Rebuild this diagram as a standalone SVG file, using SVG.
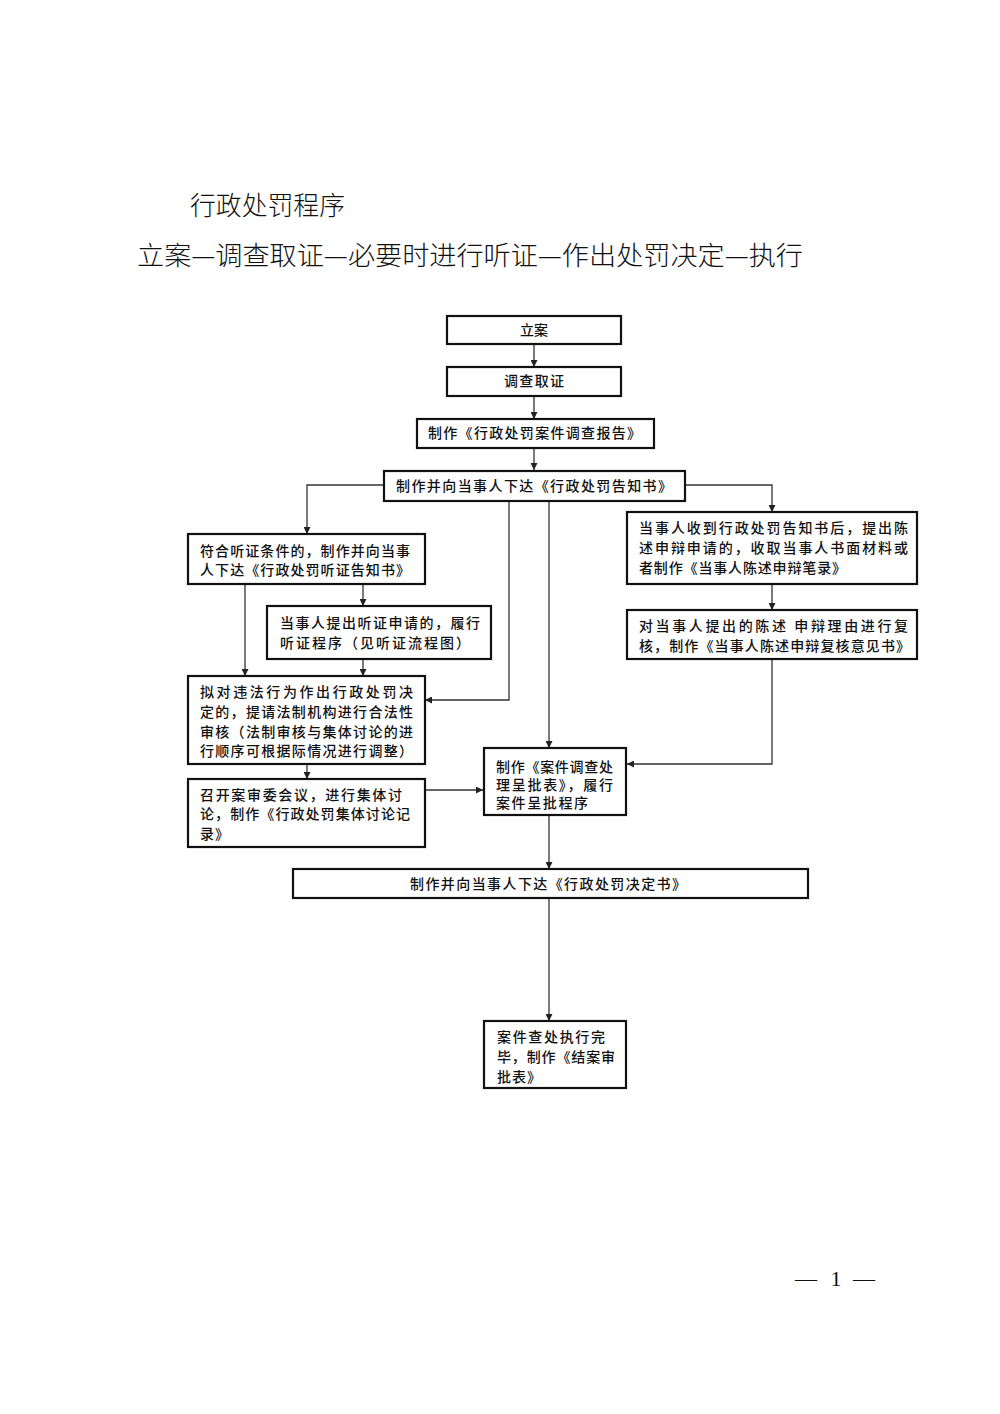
<svg xmlns="http://www.w3.org/2000/svg" width="1000" height="1414" viewBox="0 0 1000 1414">
<style>
.bg{fill:#fff}
.box{fill:#fff;stroke:#111;stroke-width:2.2}
.t{font-family:"Noto Sans CJK SC","Noto Sans",sans-serif;font-size:14px;font-weight:500;fill:#111}
.c{text-anchor:middle}
.title{font-family:"Noto Sans CJK SC","Noto Sans",sans-serif;font-size:26px;font-weight:300;fill:#111}
.pg{font-family:"Liberation Serif",serif;font-size:22px;fill:#111}
.ln{fill:none;stroke:#333;stroke-width:1.3}
</style>
<defs>
<marker id="ah" viewBox="0 0 10 10" refX="10" refY="5" markerWidth="8" markerHeight="7" markerUnits="userSpaceOnUse" orient="auto">
<path d="M0,0 L10,5 L0,10 z" fill="#222"/>
</marker>
</defs>
<rect class="bg" x="0" y="0" width="1000" height="1414"/>

<g id="titles">
<text class="title" x="190" y="215" textLength="155" lengthAdjust="spacingAndGlyphs">行政处罚程序</text>
<text class="title" x="137" y="265" textLength="666" lengthAdjust="spacingAndGlyphs">立案—调查取证—必要时进行听证—作出处罚决定—执行</text>
</g>

<g id="connectors">
<line class="ln" x1="534" y1="344" x2="534" y2="367" marker-end="url(#ah)"/>
<line class="ln" x1="534" y1="396" x2="534" y2="419" marker-end="url(#ah)"/>
<line class="ln" x1="534" y1="448" x2="534" y2="470" marker-end="url(#ah)"/>
<polyline class="ln" points="384,485 307,485 307,534" marker-end="url(#ah)"/>
<polyline class="ln" points="685,485 772,485 772,512" marker-end="url(#ah)"/>
<polyline class="ln" points="509,501 509,700 425,700" marker-end="url(#ah)"/>
<line class="ln" x1="549" y1="501" x2="549" y2="748" marker-end="url(#ah)"/>
<line class="ln" x1="245" y1="584" x2="245" y2="676" marker-end="url(#ah)"/>
<line class="ln" x1="363" y1="584" x2="363" y2="606" marker-end="url(#ah)"/>
<line class="ln" x1="363" y1="659" x2="363" y2="676" marker-end="url(#ah)"/>
<line class="ln" x1="772" y1="584" x2="772" y2="610" marker-end="url(#ah)"/>
<polyline class="ln" points="772,659 772,764 627,764" marker-end="url(#ah)"/>
<line class="ln" x1="307" y1="764" x2="307" y2="779" marker-end="url(#ah)"/>
<line class="ln" x1="425" y1="790" x2="483" y2="790" marker-end="url(#ah)"/>
<line class="ln" x1="549" y1="815" x2="549" y2="869" marker-end="url(#ah)"/>
<line class="ln" x1="549" y1="898" x2="549" y2="1021" marker-end="url(#ah)"/>
</g>

<g id="n1">
<rect class="box" x="447" y="316" width="174" height="28"/>
<text class="t c" x="534" y="335">立案</text>
</g>
<g id="n2">
<rect class="box" x="447" y="367" width="174" height="29"/>
<text class="t c" x="534" y="386" textLength="60">调查取证</text>
</g>
<g id="n3">
<rect class="box" x="417" y="419" width="237" height="29"/>
<text class="t" x="428" y="438" textLength="213">制作《行政处罚案件调查报告》</text>
</g>
<g id="n4">
<rect class="box" x="384" y="471" width="301" height="30"/>
<text class="t" x="396" y="491" textLength="276">制作并向当事人下达《行政处罚告知书》</text>
</g>
<g id="n5">
<rect class="box" x="188" y="534" width="237" height="50"/>
<text class="t" x="200" y="556" textLength="210">符合听证条件的，制作并向当事</text>
<text class="t" x="200" y="575" textLength="210">人下达《行政处罚听证告知书》</text>
</g>
<g id="n6">
<rect class="box" x="267" y="606" width="224" height="53"/>
<text class="t" x="280" y="628" textLength="200">当事人提出听证申请的，履行</text>
<text class="t" x="280" y="648" textLength="190">听证程序（见听证流程图）</text>
</g>
<g id="n7">
<rect class="box" x="627" y="512" width="290" height="72"/>
<text class="t" x="639" y="533" textLength="269">当事人收到行政处罚告知书后，提出陈</text>
<text class="t" x="639" y="553" textLength="269">述申辩申请的，收取当事人书面材料或</text>
<text class="t" x="639" y="573" textLength="207">者制作《当事人陈述申辩笔录》</text>
</g>
<g id="n8">
<rect class="box" x="627" y="610" width="290" height="49"/>
<text class="t" x="639" y="631" textLength="269">对当事人提出的陈述 申辩理由进行复</text>
<text class="t" x="639" y="651" textLength="271">核，制作《当事人陈述申辩复核意见书》</text>
</g>
<g id="n9">
<rect class="box" x="188" y="676" width="237" height="88"/>
<text class="t" x="200" y="697" textLength="213">拟对违法行为作出行政处罚决</text>
<text class="t" x="200" y="717" textLength="213">定的，提请法制机构进行合法性</text>
<text class="t" x="200" y="737" textLength="213">审核（法制审核与集体讨论的进</text>
<text class="t" x="200" y="756" textLength="213">行顺序可根据际情况进行调整）</text>
</g>
<g id="n10">
<rect class="box" x="484" y="748" width="142" height="67"/>
<text class="t" x="496" y="772" textLength="117">制作《案件调查处</text>
<text class="t" x="496" y="790" textLength="117">理呈批表》，履行</text>
<text class="t" x="496" y="808" textLength="92">案件呈批程序</text>
</g>
<g id="n11">
<rect class="box" x="188" y="779" width="237" height="68"/>
<text class="t" x="200" y="800" textLength="202">召开案审委会议，进行集体讨</text>
<text class="t" x="200" y="819" textLength="210">论，制作《行政处罚集体讨论记</text>
<text class="t" x="200" y="839" textLength="29">录》</text>
</g>
<g id="n12">
<rect class="box" x="293" y="869" width="515" height="29"/>
<text class="t" x="410" y="889" textLength="276">制作并向当事人下达《行政处罚决定书》</text>
</g>
<g id="n13">
<rect class="box" x="484" y="1021" width="142" height="67"/>
<text class="t" x="497" y="1042" textLength="108">案件查处执行完</text>
<text class="t" x="497" y="1062" textLength="118">毕，制作《结案审</text>
<text class="t" x="497" y="1082" textLength="44">批表》</text>
</g>

<g id="page">
<text class="pg" x="795" y="1286">—</text>
<text class="pg" x="836" y="1286" text-anchor="middle">1</text>
<text class="pg" x="853" y="1286">—</text>
</g>
</svg>
